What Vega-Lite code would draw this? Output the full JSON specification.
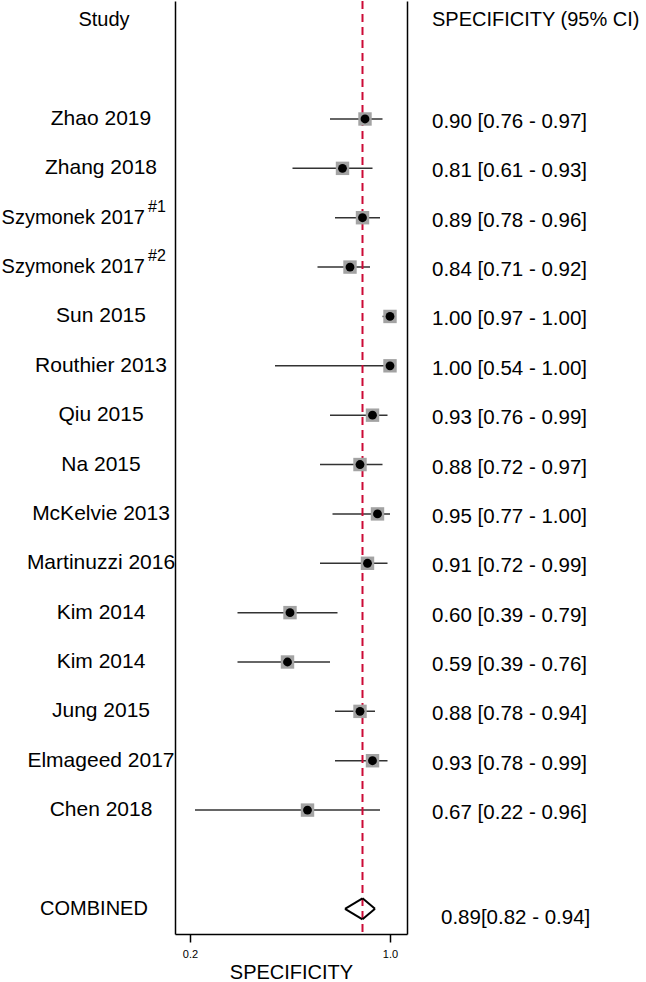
{
  "$schema": "https://vega.github.io/schema/vega-lite/v6.json",
  "padding": 0,
  "background": "white",
  "config": {"view": {"stroke": null}, "font": "Liberation Sans", "concat": {"spacing": 0}},
  "bounds": "flush",
  "spacing": 0,
  "datasets": {
    "rows": [
      {"row": 1, "type": "study", "label": "Zhao 2019", "sup": "", "est": 0.90, "lo": 0.76, "hi": 0.97, "ci": "0.90 [0.76 - 0.97]"},
      {"row": 2, "type": "study", "label": "Zhang 2018", "sup": "", "est": 0.81, "lo": 0.61, "hi": 0.93, "ci": "0.81 [0.61 - 0.93]"},
      {"row": 3, "type": "study", "label": "Szymonek 2017", "sup": "#1", "est": 0.89, "lo": 0.78, "hi": 0.96, "ci": "0.89 [0.78 - 0.96]"},
      {"row": 4, "type": "study", "label": "Szymonek 2017", "sup": "#2", "est": 0.84, "lo": 0.71, "hi": 0.92, "ci": "0.84 [0.71 - 0.92]"},
      {"row": 5, "type": "study", "label": "Sun 2015", "sup": "", "est": 1.00, "lo": 0.97, "hi": 1.00, "ci": "1.00 [0.97 - 1.00]"},
      {"row": 6, "type": "study", "label": "Routhier 2013", "sup": "", "est": 1.00, "lo": 0.54, "hi": 1.00, "ci": "1.00 [0.54 - 1.00]"},
      {"row": 7, "type": "study", "label": "Qiu 2015", "sup": "", "est": 0.93, "lo": 0.76, "hi": 0.99, "ci": "0.93 [0.76 - 0.99]"},
      {"row": 8, "type": "study", "label": "Na 2015", "sup": "", "est": 0.88, "lo": 0.72, "hi": 0.97, "ci": "0.88 [0.72 - 0.97]"},
      {"row": 9, "type": "study", "label": "McKelvie 2013", "sup": "", "est": 0.95, "lo": 0.77, "hi": 1.00, "ci": "0.95 [0.77 - 1.00]"},
      {"row": 10, "type": "study", "label": "Martinuzzi 2016", "sup": "", "est": 0.91, "lo": 0.72, "hi": 0.99, "ci": "0.91 [0.72 - 0.99]"},
      {"row": 11, "type": "study", "label": "Kim 2014", "sup": "", "est": 0.60, "lo": 0.39, "hi": 0.79, "ci": "0.60 [0.39 - 0.79]"},
      {"row": 12, "type": "study", "label": "Kim 2014", "sup": "", "est": 0.59, "lo": 0.39, "hi": 0.76, "ci": "0.59 [0.39 - 0.76]"},
      {"row": 13, "type": "study", "label": "Jung 2015", "sup": "", "est": 0.88, "lo": 0.78, "hi": 0.94, "ci": "0.88 [0.78 - 0.94]"},
      {"row": 14, "type": "study", "label": "Elmageed 2017", "sup": "", "est": 0.93, "lo": 0.78, "hi": 0.99, "ci": "0.93 [0.78 - 0.99]"},
      {"row": 15, "type": "study", "label": "Chen 2018", "sup": "", "est": 0.67, "lo": 0.22, "hi": 0.96, "ci": "0.67 [0.22 - 0.96]"},
      {"row": 17, "type": "combined", "label": "COMBINED", "sup": "", "est": 0.89, "lo": 0.82, "hi": 0.94, "ci": "0.89[0.82 - 0.94]"}
    ],
    "headers": [
      {"row": -1, "left": "Study", "right": "SPECIFICITY (95% CI)"}
    ]
  },
  "hconcat": [
    {
      "width": 175,
      "height": 933,
      "data": {"name": "rows"},
      "layer": [
        {
          "data": {"name": "headers"},
          "mark": {"type": "text", "fontSize": 20, "align": "center", "baseline": "middle", "color": "black"},
          "encoding": {
            "x": {"datum": 104, "type": "quantitative", "scale": {"domain": [0, 175], "nice": false, "zero": false}, "axis": null},
            "y": {"field": "row", "type": "quantitative", "scale": {"domain": [-1.39, 17.51], "reverse": true, "nice": false, "zero": false}, "axis": null},
            "text": {"field": "left"}
          }
        },
        {
          "transform": [{"filter": "datum.type == 'study' && datum.sup == ''"}],
          "mark": {"type": "text", "fontSize": 21, "align": "center", "baseline": "middle", "color": "black"},
          "encoding": {
            "x": {"datum": 101, "type": "quantitative"},
            "y": {"field": "row", "type": "quantitative"},
            "text": {"field": "label"}
          }
        },
        {
          "transform": [{"filter": "datum.sup != ''"}],
          "mark": {"type": "text", "fontSize": 20, "align": "right", "baseline": "middle", "color": "black"},
          "encoding": {
            "x": {"datum": 145, "type": "quantitative"},
            "y": {"field": "row", "type": "quantitative"},
            "text": {"field": "label"}
          }
        },
        {
          "transform": [{"filter": "datum.sup != ''"}],
          "mark": {"type": "text", "fontSize": 16, "align": "left", "baseline": "middle", "color": "black", "dy": -11},
          "encoding": {
            "x": {"datum": 148, "type": "quantitative"},
            "y": {"field": "row", "type": "quantitative"},
            "text": {"field": "sup"}
          }
        },
        {
          "transform": [{"filter": "datum.type == 'combined'"}],
          "mark": {"type": "text", "fontSize": 20, "align": "center", "baseline": "middle", "color": "black"},
          "encoding": {
            "x": {"datum": 94, "type": "quantitative"},
            "y": {"field": "row", "type": "quantitative"},
            "text": {"field": "label"}
          }
        }
      ]
    },
    {
      "width": 232,
      "height": 933,
      "data": {"name": "rows"},
      "layer": [
        {
          "transform": [{"filter": "datum.type == 'study'"}],
          "mark": {"type": "rule", "color": "#333333", "strokeWidth": 1.5},
          "encoding": {
            "x": {"field": "lo", "type": "quantitative", "scale": {"domain": [0.14, 1.068], "nice": false, "zero": false},
              "axis": {"values": [0.2, 1.0], "format": ".1f", "title": "SPECIFICITY", "grid": false, "domainColor": "black", "domainWidth": 1.5, "tickColor": "black", "tickWidth": 1.5, "tickSize": 8, "labelFontSize": 11, "labelColor": "black", "labelPadding": 6, "titleFontSize": 20, "titleFontWeight": "normal", "titleColor": "black", "titlePadding": 3}},
            "x2": {"field": "hi"},
            "y": {"field": "row", "type": "quantitative", "scale": {"domain": [-1.39, 17.51], "reverse": true, "nice": false, "zero": false},
              "axis": {"domain": true, "domainColor": "black", "domainWidth": 1.5, "ticks": false, "labels": false, "grid": false, "title": null, "minExtent": 0, "maxExtent": 0}}
          }
        },
        {
          "transform": [{"filter": "datum.type == 'combined'"}],
          "mark": {"type": "rule", "color": "#cc0a36", "strokeWidth": 2, "strokeDash": [8, 5]},
          "encoding": {
            "x": {"field": "est", "type": "quantitative"}
          }
        },
        {
          "transform": [{"filter": "datum.type == 'study'"}],
          "mark": {"type": "point", "shape": "square", "filled": true, "color": "#a3a3a3", "size": 180, "opacity": 1},
          "encoding": {
            "x": {"field": "est", "type": "quantitative"},
            "y": {"field": "row", "type": "quantitative"}
          }
        },
        {
          "transform": [{"filter": "datum.type == 'study'"}],
          "mark": {"type": "point", "shape": "circle", "filled": true, "color": "black", "size": 78, "opacity": 1},
          "encoding": {
            "x": {"field": "est", "type": "quantitative"},
            "y": {"field": "row", "type": "quantitative"}
          }
        },
        {
          "transform": [{"filter": "datum.type == 'combined'"}],
          "mark": {"type": "rule", "color": "black", "strokeWidth": 2, "y2Offset": -10.5},
          "encoding": {
            "x": {"field": "lo", "type": "quantitative"},
            "x2": {"field": "est"},
            "y": {"field": "row", "type": "quantitative"},
            "y2": {"field": "row"}
          }
        },
        {
          "transform": [{"filter": "datum.type == 'combined'"}],
          "mark": {"type": "rule", "color": "black", "strokeWidth": 2, "y2Offset": 10.5},
          "encoding": {
            "x": {"field": "lo", "type": "quantitative"},
            "x2": {"field": "est"},
            "y": {"field": "row", "type": "quantitative"},
            "y2": {"field": "row"}
          }
        },
        {
          "transform": [{"filter": "datum.type == 'combined'"}],
          "mark": {"type": "rule", "color": "black", "strokeWidth": 2, "yOffset": -10.5},
          "encoding": {
            "x": {"field": "est", "type": "quantitative"},
            "x2": {"field": "hi"},
            "y": {"field": "row", "type": "quantitative"},
            "y2": {"field": "row"}
          }
        },
        {
          "transform": [{"filter": "datum.type == 'combined'"}],
          "mark": {"type": "rule", "color": "black", "strokeWidth": 2, "yOffset": 10.5},
          "encoding": {
            "x": {"field": "est", "type": "quantitative"},
            "x2": {"field": "hi"},
            "y": {"field": "row", "type": "quantitative"},
            "y2": {"field": "row"}
          }
        }
      ]
    },
    {
      "width": 239,
      "height": 933,
      "data": {"name": "rows"},
      "layer": [
        {
          "data": {"name": "headers"},
          "mark": {"type": "text", "fontSize": 20, "align": "left", "baseline": "middle", "color": "black"},
          "encoding": {
            "x": {"datum": 25, "type": "quantitative", "scale": {"domain": [0, 239], "nice": false, "zero": false}, "axis": null},
            "y": {"field": "row", "type": "quantitative", "scale": {"domain": [-1.39, 17.51], "reverse": true, "nice": false, "zero": false},
              "axis": {"domain": true, "domainColor": "black", "domainWidth": 1.5, "ticks": false, "labels": false, "grid": false, "title": null, "minExtent": 0, "maxExtent": 0}},
            "text": {"field": "right"}
          }
        },
        {
          "transform": [{"filter": "datum.type == 'study'"}],
          "mark": {"type": "text", "fontSize": 20.5, "align": "left", "baseline": "middle", "color": "black", "dy": 3},
          "encoding": {
            "x": {"datum": 25, "type": "quantitative"},
            "y": {"field": "row", "type": "quantitative"},
            "text": {"field": "ci"}
          }
        },
        {
          "transform": [{"filter": "datum.type == 'combined'"}],
          "mark": {"type": "text", "fontSize": 20.5, "align": "left", "baseline": "middle", "color": "black", "dy": 9},
          "encoding": {
            "x": {"datum": 34, "type": "quantitative"},
            "y": {"field": "row", "type": "quantitative"},
            "text": {"field": "ci"}
          }
        }
      ]
    }
  ]
}
